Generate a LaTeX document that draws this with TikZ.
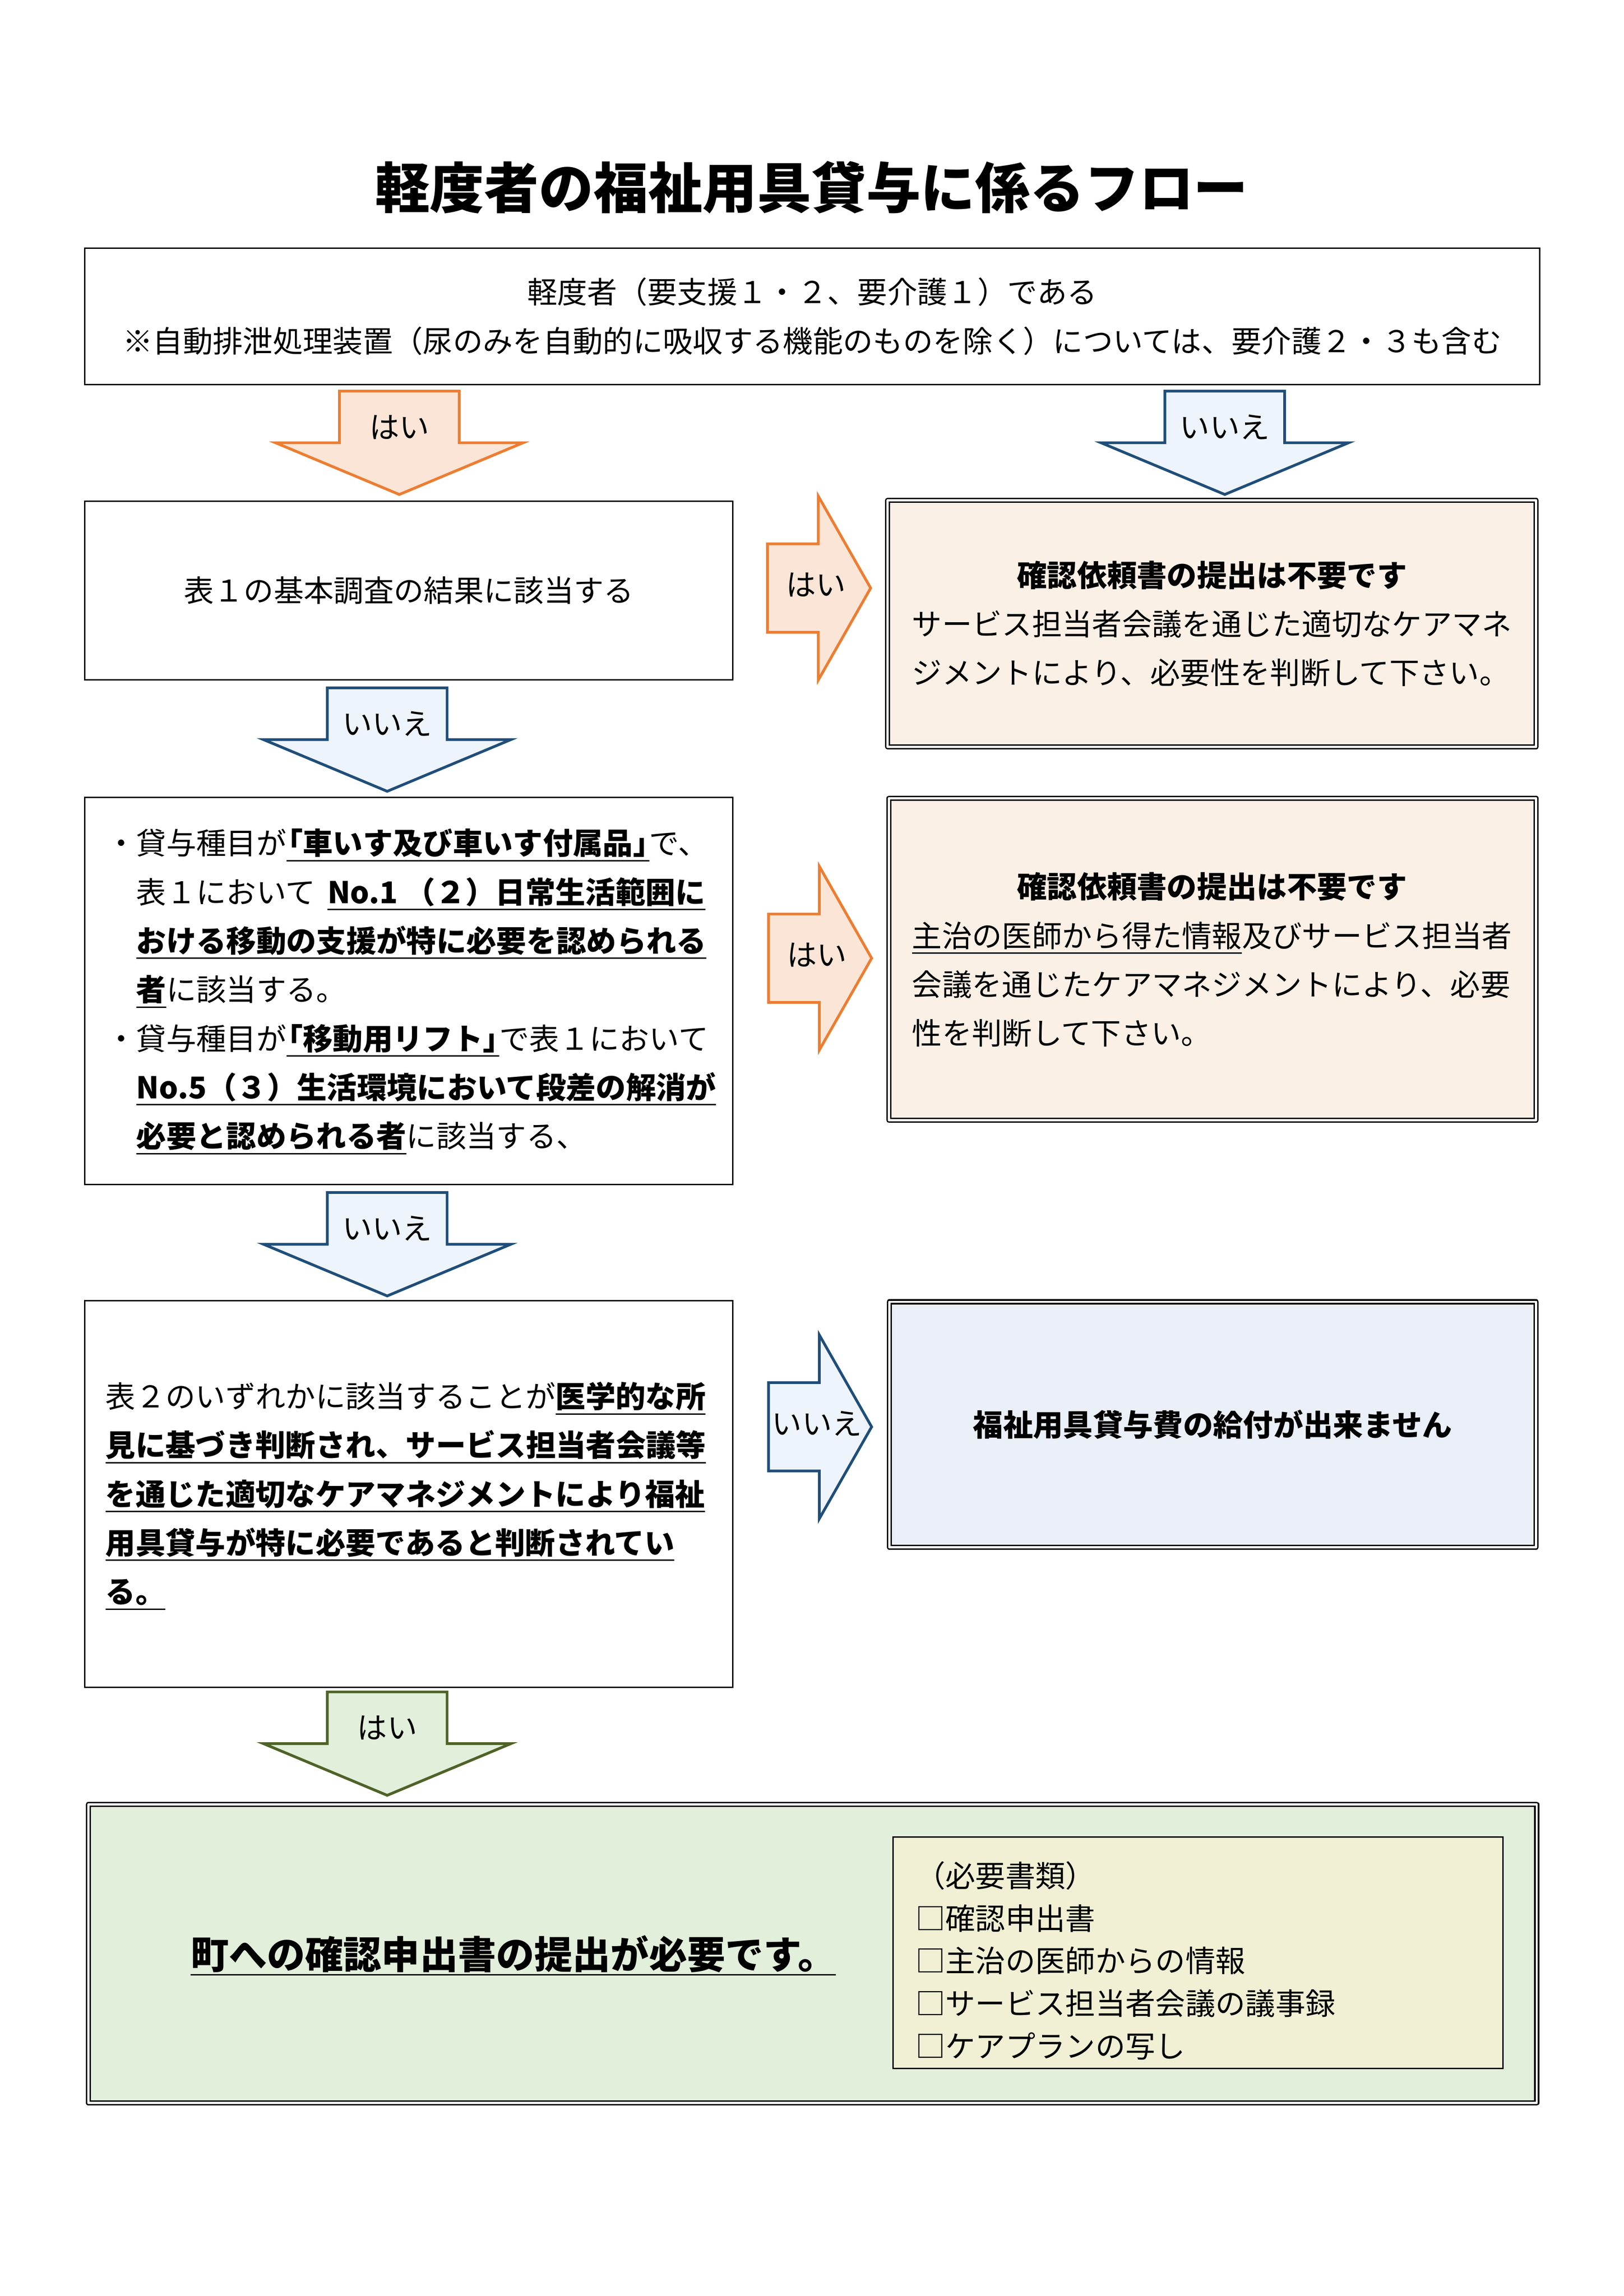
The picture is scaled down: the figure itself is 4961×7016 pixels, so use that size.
\documentclass[tikz,border=0pt]{standalone}
\usepackage{fontspec}
\setmainfont{Noto Sans CJK JP}
\usetikzlibrary{fit}
\definecolor{yesline}{HTML}{ED7D31}
\definecolor{yesfill}{HTML}{FBE5D6}
\definecolor{noline}{HTML}{1F4E79}
\definecolor{nofill}{HTML}{EEF4FB}
\definecolor{endline}{HTML}{4F6228}
\definecolor{endfill}{HTML}{E2EFDA}
\definecolor{skipfill}{HTML}{FBF0E6}
\definecolor{denyfill}{HTML}{EAEFF8}
\definecolor{docfill}{HTML}{F1F0D4}
\tikzset{plain box/.style={draw,line width=0.5pt,inner sep=0pt},
         double box/.style={draw,line width=0.55pt,double=white,double distance=0.8pt,line join=round,inner sep=0pt},
         body text/.style={inner sep=0pt,font=\fontsize{11}{17.9}\selectfont},
         arrow label/.style={inner sep=0pt,font=\fontsize{11}{13}\selectfont},
         yes arrow/.style={draw=yesline,fill=yesfill,line width=1pt},
         no arrow/.style={draw=noline,fill=nofill,line width=1pt},
         end arrow/.style={draw=endline,fill=endfill,line width=1pt},
            }
\newsavebox\ulbox
\newcommand\uln[1]{\leavevmode\sbox\ulbox{#1}\rlap{\rule[-2.5pt]{\wd\ulbox}{0.5pt}}\usebox\ulbox}
\newcommand\ulb[1]{\uln{\bfseries #1}}
\newcommand\lkak{\kern-.45em「}
\newcommand\rkak{」\kern-.45em}
% block arrows: x, top y, style, label, name
\newcommand\downblock[5]{%
  \draw[#3] (#1-183,#2) -- (#1+183,#2) -- (#1+183,#2+158) -- (#1+378,#2+158)
    -- (#1,#2+316) -- (#1-378,#2+158) -- (#1-183,#2+158) -- cycle;
  \node[arrow label] (#5) at (#1,#2+110) {#4};}
% left x, middle y, style, label, name
\newcommand\rightblock[5]{%
  \draw[#3] (#1,#2-135) -- (#1+155,#2-135) -- (#1+155,#2-281) -- (#1+315,#2)
    -- (#1+155,#2+281) -- (#1+155,#2+135) -- (#1,#2+135) -- cycle;
  \node[arrow label] (#5) at (#1+148,#2-10) {#4};}

\begin{document}
\begin{tikzpicture}[x=0.12pt,y=-0.12pt]
\useasboundingbox (0,0) rectangle (4961,7016);
\fill[white] (0,0) rectangle (4961,7016);

 \node[inner sep=0pt,font=\fontsize{20}{24}\selectfont\bfseries] (title) at (2480,573) {軽度者の福祉用具貸与に係るフロー};

 \node[plain box,fit={(259,759) (4704,1175)}] (cond) {};
 \node[body text,align=center] (condtxt) at (cond.center)
   {軽度者（要支援１・２、要介護１）である\\
    ※自動排泄処理装置（尿のみを自動的に吸収する機能のものを除く）については、要介護２・３も含む};

 \node[plain box,fit={(259,1531) (2239,2077)}] (basic) {};
 \node[body text] (basictxt) at (basic.center) {表１の基本調査の結果に該当する};

 \node[plain box,fit={(259,2437) (2239,3619)}] (item) {};
 \node[body text,text width=211.3pt,align=left] (itemtxt) at (1297,3030)
   {\noindent\leavevmode\llap{・}貸与種目が\ulb{\lkak 車いす及び車いす付属品\rkak}で、\\
    表１において\hspace{.4em}\ulb{No.1\hspace{.25em}（２）日常生活範囲に}\\
    \ulb{おける移動の支援が特に必要を認められる}\\
    \ulb{者}に該当する。\\
    \leavevmode\llap{・}貸与種目が\ulb{\lkak 移動用リフト\rkak}で表１において\\
    \ulb{No.5（３）生活環境において段差の解消が}\\
    \ulb{必要と認められる者}に該当する、};

 \node[plain box,fit={(259,3975) (2239,5156)}] (medical) {};
 \node[body text,text width=222.6pt,align=left] (medicaltxt) at (1250,4571)
   {\noindent 表２のいずれかに該当することが\ulb{医学的な所}\\
    \ulb{見に基づき判断され、サービス担当者会議等}\\
    \ulb{を通じた適切なケアマネジメントにより福祉}\\
    \ulb{用具貸与が特に必要であると判断されてい}\\
    \ulb{る。}};

 \node[double box,fill=skipfill,fit={(2712,1529) (4693,2282)}] (skipA) {};
 \node[body text,text width=220pt,align=left] (skipAtxt) at (3703,1906)
   {\centerline{\bfseries 確認依頼書の提出は不要です}
    \noindent サービス担当者会議を通じた適切なケアマネ\\
    ジメントにより、必要性を判断して下さい。};

 \node[double box,fill=skipfill,fit={(2716,2439) (4693,3423)}] (skipB) {};
 \node[body text,text width=220pt,align=left] (skipBtxt) at (3703,2933)
   {\centerline{\bfseries 確認依頼書の提出は不要です}
    \noindent\uln{主治の医師から得た情報}及びサービス担当者\\
    会議を通じたケアマネジメントにより、必要\\
    性を判断して下さい。};

 \node[double box,fill=denyfill,fit={(2717,3978) (4693,4728)}] (deny) {};
 \node[body text,font=\fontsize{11}{17.9}\selectfont\bfseries] (denytxt) at (deny.center) {福祉用具貸与費の給付が出来ません};

 \node[double box,fill=endfill,fit={(270,5514) (4695,6426)}] (apply) {};
 \node[inner sep=0pt,anchor=west,font=\fontsize{14}{17}\selectfont\bfseries] (applytxt) at (581,5975)
   {\uln{町への確認申出書の提出が必要です。}};

 \node[plain box,fill=docfill,fit={(2729,5613) (4592,6321)}] (docs) {};
 \node[inner sep=0pt,anchor=west,align=left,font=\fontsize{11}{15.6}\selectfont] (docstxt) at (2795,5991)
   {（必要書類）\\
    □確認申出書\\
    □主治の医師からの情報\\
    □サービス担当者会議の議事録\\
    □ケアプランの写し};

 \downblock{1220}{1195}{yes arrow}{はい}{yesA}
 \downblock{3742}{1195}{no arrow}{いいえ}{noA}
 \downblock{1183}{2102}{no arrow}{いいえ}{noB}
 \downblock{1183}{3644}{no arrow}{いいえ}{noC}
 \downblock{1183}{5170}{end arrow}{はい}{yesD}

 \rightblock{2345}{1797}{yes arrow}{はい}{yesB}
 \rightblock{2348}{2928}{yes arrow}{はい}{yesC}
 \rightblock{2348}{4360}{no arrow}{いいえ}{noD}

\end{tikzpicture}
\end{document}
